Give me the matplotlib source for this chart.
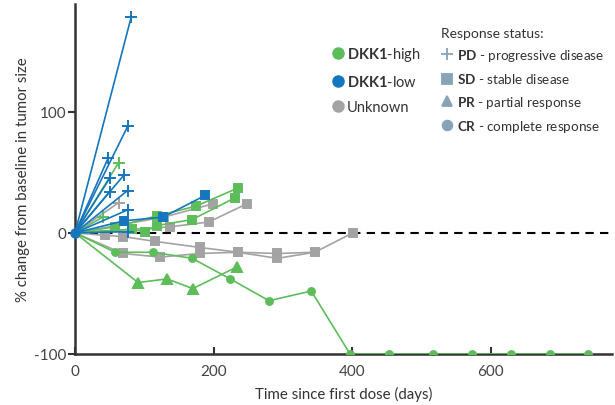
import matplotlib
matplotlib.use("Agg")
import matplotlib.pyplot as plt
from matplotlib.lines import Line2D

plt.rcParams['font.family'] = ['Lato', 'DejaVu Sans']
plt.rcParams['axes.unicode_minus'] = False
plt.rcParams['mathtext.fontset'] = 'custom'
plt.rcParams['mathtext.rm'] = 'Lato'
plt.rcParams['mathtext.bf'] = 'Lato:bold'

GREEN = '#5dbd5b'
BLUE = '#1576bd'
GRAY = '#a3a3a3'
KEY = '#86a3b8'

# each patient: group, response status, days, % change
pd_days_blue = [[0, 81], [0, 76], [0, 48], [0, 50], [0, 71], [0, 50], [0, 76], [0, 76], [0, 76]]
pd_vals_blue = [[0, 178], [0, 88], [0, 62], [0, 45], [0, 48], [0, 34], [0, 35], [0, 19], [0, 1]]

pd_days_green = [[0, 63], [0, 40]]
pd_vals_green = [[0, 58], [0, 13]]

pd_days_gray = [[0, 63]]
pd_vals_gray = [[0, 25]]

sd_days_blue = [[0, 71, 127, 188]]
sd_vals_blue = [[0, 10, 13, 31]]

sd_days_green = [[0, 58, 118, 174, 235], [0, 82, 101, 118, 169, 231]]
sd_vals_green = [[0, 5, 14, 22, 37], [0, 3, 1, 6, 11, 29]]

sd_days_gray = [[0, 43, 69, 115, 180, 235, 292, 346, 401],
                [0, 69, 123, 180, 235, 292, 346],
                [0, 128, 199],
                [0, 137, 193, 248]]
sd_vals_gray = [[0, -2, -3, -7, -12, -16, -21, -16, 0],
                [0, -17, -20, -17, -16, -17, -16],
                [0, 13, 24],
                [0, 5, 9, 24]]

pr_days_green = [[0, 91, 133, 170, 234]]
pr_vals_green = [[0, -41, -38, -46, -28]]

cr_days_green = [[0, 58, 113, 169, 224, 280, 341, 397, 453, 516, 573, 629, 685, 740]]
cr_vals_green = [[0, -16, -16, -21, -38, -56, -48, -100, -100, -100, -100, -100, -100, -100]]

fig = plt.figure(figsize=[6.15, 4.06], dpi=100)
ax = fig.add_axes([75 / 615, 51 / 406, 537 / 615, 350 / 406])

ax.axhline(0, color='black', lw=1.5, ls=(0, (4, 3)), zorder=1)


def draw(days, vals, color, marker, ms, z):
    for d, v in zip(days, vals):
        ax.plot(d, v, color=color, lw=1.2, marker=marker, ms=ms, mew=1.4,
                markevery=slice(1, None), zorder=z)


draw(sd_days_gray, sd_vals_gray, GRAY, 's', 5.5, 2)
draw(pd_days_gray, pd_vals_gray, GRAY, '+', 9, 2)
draw(sd_days_green, sd_vals_green, GREEN, 's', 5.5, 3)
draw(pd_days_green, pd_vals_green, GREEN, '+', 9, 3)
draw(pr_days_green, pr_vals_green, GREEN, '^', 6.5, 3)
draw(cr_days_green, cr_vals_green, GREEN, 'o', 5, 3)
draw(sd_days_blue, sd_vals_blue, BLUE, 's', 5.5, 4)
draw(pd_days_blue, pd_vals_blue, BLUE, '+', 9, 4)
ax.plot([0], [0], 'o', color=BLUE, ms=6.5, zorder=5, clip_on=False)

ax.set_xlim(0, 775)
ax.set_ylim(-100, 189)
ax.set_xticks([0, 200, 400, 600])
ax.set_yticks([-100, 0, 100])
for s in ['top', 'right']:
    ax.spines[s].set_visible(False)
for s in ['left', 'bottom']:
    ax.spines[s].set_linewidth(1.8)
    ax.spines[s].set_color('#333333')
ax.tick_params(axis='x', direction='in', length=5, width=1.5, color='#333333',
               labelsize=11, labelcolor='#444444', pad=7)
ax.tick_params(axis='y', direction='out', length=5, width=1.5, color='#333333',
               labelsize=11, labelcolor='#444444', pad=1)
ax.set_xlabel('Time since first dose (days)', fontsize=10.8, color='#333333', labelpad=6)
ax.set_ylabel('% change from baseline in tumor size', fontsize=10.8, color='#333333', labelpad=3)

group_handles = [Line2D([], [], ls='', marker='o', ms=8, color=c) for c in [GREEN, BLUE, GRAY]]
group_labels = [r'$\mathbf{DKK1}$-high', r'$\mathbf{DKK1}$-low', 'Unknown']
leg1 = ax.legend(group_handles, group_labels, loc='upper left', bbox_to_anchor=(0.47, 0.90),
                 frameon=False, fontsize=10.5, handlelength=0.6, handletextpad=0.35,
                 labelspacing=0.75, labelcolor='#333333', borderaxespad=0)
ax.add_artist(leg1)

status_handles = [Line2D([], [], ls='', marker=m, ms=s, mew=1.3, color=KEY)
                  for m, s in [('+', 9), ('s', 7), ('^', 7), ('o', 7)]]
status_labels = [r'$\mathbf{PD}$ - progressive disease', r'$\mathbf{SD}$ - stable disease',
                 r'$\mathbf{PR}$ - partial response', r'$\mathbf{CR}$ - complete response']
leg2 = ax.legend(status_handles, status_labels, loc='upper left', bbox_to_anchor=(0.672, 0.951),
                 frameon=False, fontsize=9.7, handlelength=0.8, handletextpad=0.35,
                 labelspacing=0.62, title='Response status:', title_fontsize=10,
                 labelcolor='#333333', alignment='left', borderaxespad=0)
leg2.get_title().set_color('#333333')

plt.savefig('out.png', dpi=100)
